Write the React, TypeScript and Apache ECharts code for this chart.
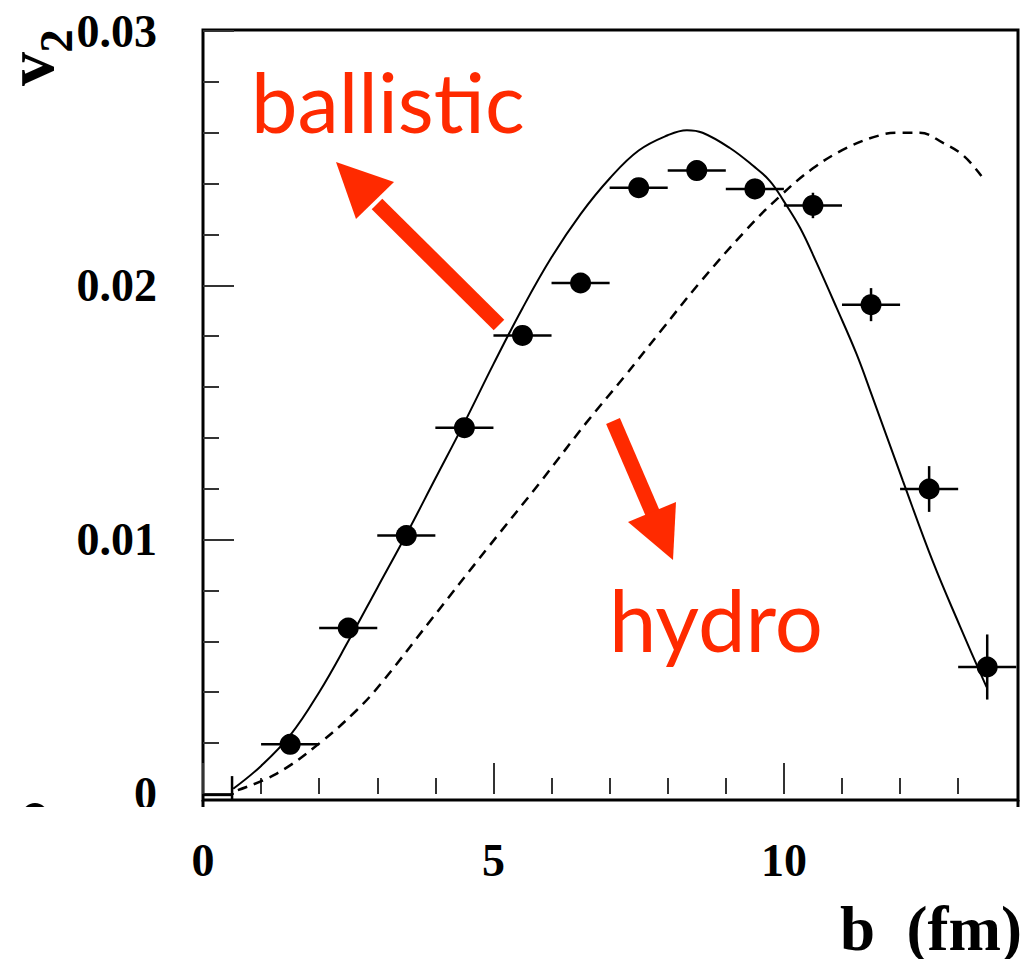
import React, { useEffect, useRef } from "react";
import * as echarts from "echarts";

// ---- data ----
const B = [0.5, 1.5, 2.5, 3.5, 4.5, 5.5, 6.5, 7.5, 8.5, 9.5, 10.5, 11.5, 12.5, 13.5];
const V2 = [-0.00004, 0.00195, 0.00652, 0.01016, 0.0144, 0.01803, 0.02009, 0.02384, 0.02451, 0.02379, 0.02314, 0.01924, 0.01199, 0.00499];
const B_ERR_LO = [0.5, 0.5, 0.5, 0.5, 0.5, 0.5, 0.5, 0.5, 0.5, 0.5, 0.5, 0.5, 0.5, 0.5];
const B_ERR_HI = [0, 0.5, 0.5, 0.5, 0.5, 0.5, 0.5, 0.5, 0.5, 0.5, 0.5, 0.5, 0.5, 0.5];
const V2_ERR = [0.00074, 0.0003, 0.0003, 0.0003, 0.0003, 0.0003, 0.0003, 0.0003, 0.0003, 0.0004, 0.0005, 0.00065, 0.0009, 0.00128];
const SHOW_MARKER = [false, true, true, true, true, true, true, true, true, true, true, true, true, true];

// ballistic (solid) curve
const SOLID_B = [0.52, 1.0, 1.5, 2.0, 2.5, 3.0, 3.5, 4.0, 4.5, 5.0, 5.5, 6.0, 6.5, 7.0, 7.5, 8.0, 8.33, 8.6, 9.07, 9.47, 9.76, 10.0, 10.28, 10.56, 10.91, 11.25, 11.51, 12.05, 12.57, 13.03, 13.43, 13.49];
const SOLID_V = [0.0002, 0.0011, 0.0023, 0.004, 0.006, 0.0081, 0.0102, 0.0124, 0.0146, 0.0169, 0.0191, 0.0211, 0.0228, 0.0242, 0.0253, 0.0259, 0.0261, 0.026, 0.0254, 0.0247, 0.0241, 0.0233, 0.02225, 0.0209, 0.0191, 0.0173, 0.0157, 0.0123, 0.0091, 0.0066, 0.0045, 0.0042];

// hydro (dashed) curve
const DASH_B = [0.6, 1.27, 2.01, 2.65, 3.05, 3.91, 4.91, 5.82, 6.6, 7.25, 7.88, 8.55, 9.36, 9.93, 10.5, 11.08, 11.65, 12.0, 12.34, 12.74, 13.09, 13.4];
const DASH_V = [0.00015, 0.0008, 0.002, 0.0033, 0.0043, 0.0068, 0.0097, 0.0123, 0.0146, 0.0164, 0.0182, 0.0201, 0.0222, 0.0235, 0.0246, 0.0254, 0.0259, 0.026, 0.026, 0.0256, 0.0251, 0.0243];

// ticks
const X_MAJOR = [0, 5, 10];
const X_MINOR = [1, 2, 3, 4, 6, 7, 8, 9, 11, 12, 13];
const Y_MAJOR = [0, 0.01, 0.02, 0.03];
const Y_MINOR = [0.002, 0.004, 0.006, 0.008, 0.012, 0.014, 0.016, 0.018, 0.022, 0.024, 0.026, 0.028];

const X_MIN = 0;
const X_MAX = 14.03;
const Y_MIN = -0.00024;
const Y_MAX = 0.03004;

const SERIF = "'Liberation Serif', 'Times New Roman', serif";
const SANS = "Lato, 'Open Sans', sans-serif";
const RED = "#ff2a00";

export default function App() {
  const ref = useRef<HTMLDivElement>(null);

  useEffect(() => {
    if (!ref.current) return;
    const chart = echarts.init(ref.current, undefined, { renderer: "svg" });

    const errData = B.map((b, i) => [b, V2[i], b - B_ERR_LO[i], b + B_ERR_HI[i], V2[i] - V2_ERR[i], V2[i] + V2_ERR[i]]);
    const markerData = B.map((b, i) => [b, V2[i]]).filter((_, i) => SHOW_MARKER[i]);

    const majorTick = { show: true, inside: true, length: 31, lineStyle: { color: "#333", width: 2 } };
    const minorTick = { show: true, inside: true, length: 16, lineStyle: { color: "#333", width: 2 } };

    const option: any = {
      animation: false,
      grid: {
        left: 203,
        right: 10,
        top: 30,
        bottom: 159,
        show: true,
        borderColor: "#000",
        borderWidth: 3,
        backgroundColor: "transparent",
      },
      xAxis: [
        {
          type: "value",
          min: X_MIN,
          max: X_MAX,
          position: "bottom",
          axisLine: { show: false },
          splitLine: { show: false },
          axisTick: { ...majorTick, customValues: X_MAJOR },
          axisLabel: {
            customValues: X_MAJOR,
            margin: 37,
            fontFamily: SERIF,
            fontWeight: "bold",
            fontSize: 46,
            color: "#000",
            formatter: (v: number) => String(v),
          },
        },
        {
          type: "value",
          min: X_MIN,
          max: X_MAX,
          position: "bottom",
          axisLine: { show: false },
          splitLine: { show: false },
          axisTick: { ...minorTick, customValues: X_MINOR },
          axisLabel: { show: false },
        },
      ],
      yAxis: [
        {
          type: "value",
          min: Y_MIN,
          max: Y_MAX,
          position: "left",
          axisLine: { show: false },
          splitLine: { show: false },
          axisTick: { ...majorTick, customValues: Y_MAJOR },
          axisLabel: {
            customValues: Y_MAJOR,
            margin: 46,
            fontFamily: SERIF,
            fontWeight: "bold",
            fontSize: 46,
            color: "#000",
            formatter: (v: number) => (Math.abs(v) < 1e-9 ? "0" : v.toFixed(2)),
          },
        },
        {
          type: "value",
          min: Y_MIN,
          max: Y_MAX,
          position: "left",
          axisLine: { show: false },
          splitLine: { show: false },
          axisTick: { ...minorTick, customValues: Y_MINOR },
          axisLabel: { show: false },
        },
      ],
      series: [
        {
          type: "line",
          xAxisIndex: 0,
          yAxisIndex: 0,
          data: SOLID_B.map((b, i) => [b, SOLID_V[i]]),
          showSymbol: false,
          smooth: 0.4,
          lineStyle: { color: "#000", width: 2 },
          z: 3,
        },
        {
          type: "line",
          xAxisIndex: 0,
          yAxisIndex: 0,
          data: DASH_B.map((b, i) => [b, DASH_V[i]]),
          showSymbol: false,
          smooth: 0.4,
          lineStyle: { color: "#000", width: 2.5, type: [10, 7] },
          z: 3,
        },
        {
          type: "custom",
          xAxisIndex: 0,
          yAxisIndex: 0,
          data: errData,
          encode: { x: 0, y: 1 },
          z: 4,
          renderItem: (params: any, api: any) => {
            const cs = params.coordSys;
            const clampX = (x: number) => Math.max(cs.x, Math.min(cs.x + cs.width, x));
            const clampY = (y: number) => Math.max(cs.y, Math.min(cs.y + cs.height, y));
            const b = api.value(0);
            const v = api.value(1);
            const c = api.coord([b, v]);
            const l = api.coord([api.value(2), v]);
            const r = api.coord([api.value(3), v]);
            const lo = api.coord([b, api.value(4)]);
            const hi = api.coord([b, api.value(5)]);
            const st = { stroke: "#000", lineWidth: 2.5 };
            return {
              type: "group",
              children: [
                { type: "line", shape: { x1: clampX(l[0]), y1: clampY(c[1]), x2: clampX(r[0]), y2: clampY(c[1]) }, style: st },
                { type: "line", shape: { x1: clampX(c[0]), y1: clampY(lo[1]), x2: clampX(c[0]), y2: clampY(hi[1]) }, style: st },
              ],
            };
          },
        },
        {
          type: "scatter",
          xAxisIndex: 0,
          yAxisIndex: 0,
          data: markerData,
          symbol: "circle",
          symbolSize: 21,
          itemStyle: { color: "#000", opacity: 1 },
          z: 5,
        },
      ],
      graphic: [
        // clipped fragment below the axes (as in the reference)
        { type: "ellipse", z: 90, shape: { cx: 35, cy: 815, rx: 12.5, ry: 12 }, style: { fill: "#000" } },
        { type: "rect", z: 100, shape: { x: 0, y: 807, width: 200, height: 33 }, style: { fill: "#fff" } },
        { type: "line", z: 100, shape: { x1: 203, y1: 800, x2: 203, y2: 807 }, style: { stroke: "#000", lineWidth: 3 } },
        { type: "line", z: 100, shape: { x1: 1018, y1: 800, x2: 1018, y2: 807 }, style: { stroke: "#000", lineWidth: 3 } },
        // axis titles
        {
          type: "text",
          z: 100,
          x: 30,
          y: 69,
          rotation: Math.PI / 2,
          style: { text: "v", x: 0, y: 0, align: "center", verticalAlign: "middle", lineHeight: 48, fontFamily: SERIF, fontWeight: "bold", fontSize: 68, fill: "#000" },
        },
        {
          type: "text",
          z: 100,
          x: 56,
          y: 41,
          rotation: Math.PI / 2,
          style: { text: "2", x: 0, y: 0, align: "center", verticalAlign: "middle", lineHeight: 36, fontFamily: SERIF, fontWeight: "bold", fontSize: 47, fill: "#000" },
        },
        {
          type: "text",
          z: 100,
          x: 840,
          y: 929,
          style: { text: "b  (fm)", x: 0, y: 0, align: "left", verticalAlign: "middle", lineHeight: 54, fontFamily: SERIF, fontWeight: "bold", fontSize: 63, fill: "#000" },
        },
        // annotations
        {
          type: "text",
          z: 100,
          x: 251,
          y: 101,
          style: { text: "ballistic", x: 0, y: 0, align: "left", verticalAlign: "middle", fontFamily: SANS, fontSize: 83, fill: RED },
        },
        {
          type: "text",
          z: 100,
          x: 609,
          y: 619,
          style: { text: "hydro", x: 0, y: 0, align: "left", verticalAlign: "middle", fontFamily: SANS, fontSize: 85, fill: RED },
        },
        { type: "line", z: 100, shape: { x1: 499, y1: 325, x2: 377, y2: 204 }, style: { stroke: RED, lineWidth: 15 } },
        { type: "polygon", z: 100, shape: { points: [[336, 162], [356, 219], [394, 182]] }, style: { fill: RED } },
        { type: "line", z: 100, shape: { x1: 613, y1: 421, x2: 653, y2: 514 }, style: { stroke: RED, lineWidth: 15 } },
        { type: "polygon", z: 100, shape: { points: [[673, 560], [628, 522], [676, 502]] }, style: { fill: RED } },
      ],
    };

    chart.setOption(option);
    return () => chart.dispose();
  }, []);

  return <div ref={ref} style={{ position: "absolute", left: 0, top: 0, width: 1028, height: 959 }} />;
}
